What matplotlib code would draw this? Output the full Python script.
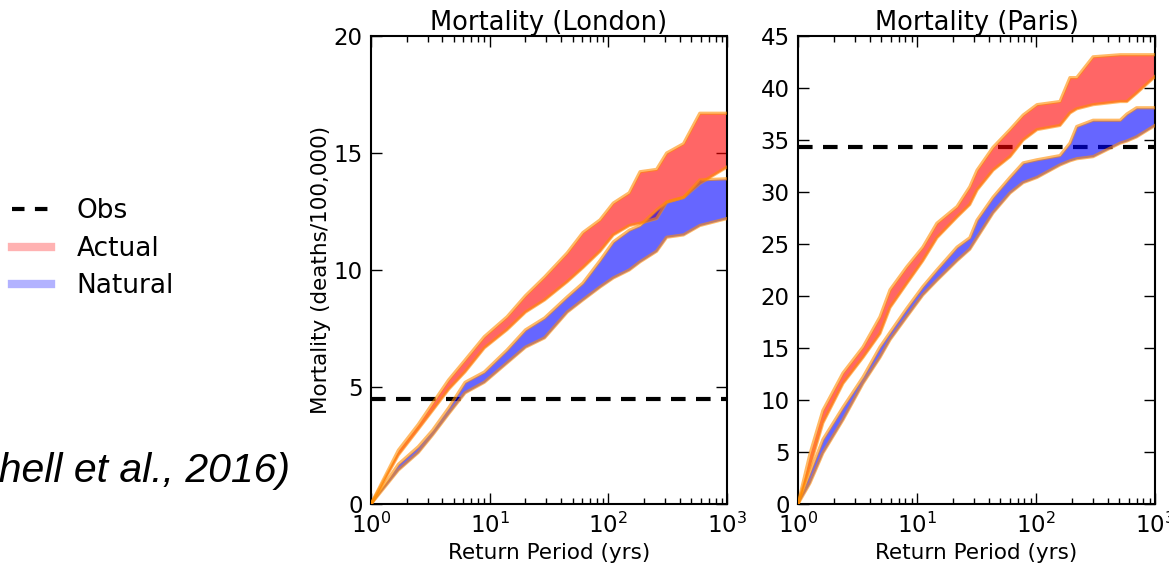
import matplotlib
matplotlib.use("Agg")
import matplotlib.pyplot as plt
from matplotlib.lines import Line2D
import numpy as np

# ---------------- data ----------------
london_rp = [1, 1.7, 2.5, 3.3, 4.5, 6.2, 9, 14, 20, 29, 45, 61, 85, 110, 150,
             185, 255, 310, 430, 590, 1000]
london_act_hi = [0, 2.3, 3.4, 4.3, 5.3, 6.15, 7.15, 8.0, 8.9, 9.7, 10.73, 11.6,
                 12.14, 12.86, 13.3, 14.2, 14.3, 15.0, 15.4, 16.7, 16.7]
london_act_lo = [0, 2.1, 3.2, 4.0, 4.9, 5.65, 6.67, 7.45, 8.2, 8.72, 9.5, 10.1,
                 10.8, 11.5, 11.9, 12.0, 12.2, 12.9, 13.1, 13.7, 14.4]
london_nat_hi = [0, 1.7, 2.45, 3.15, 4.1, 5.2, 5.64, 6.58, 7.44, 7.95, 8.85, 9.44,
                 10.4, 11.2, 11.7, 11.9, 12.56, 12.9, 13.1, 13.85, 13.9]
london_nat_lo = [0, 1.45, 2.2, 2.95, 3.85, 4.75, 5.2, 6.03, 6.7, 7.1, 8.2, 8.72,
                 9.27, 9.66, 10.0, 10.35, 10.8, 11.4, 11.5, 11.9, 12.2]
london_obs = 4.5

paris_rp = [1, 1.26, 1.62, 2.39, 3.52, 4.89, 5.94, 8.2, 11.2, 14.7, 21.7, 27.8,
            32, 43.6, 60.5, 78, 102, 159, 193, 220, 302, 510, 580, 700, 1000]
paris_act_hi = [0, 4.8, 9.0, 12.6, 15.1, 18.0, 20.6, 22.8, 24.7, 27.0, 28.6, 30.5,
                32.1, 34.3, 36.0, 37.4, 38.4, 38.7, 41.0, 41.0, 43.0, 43.2, 43.2,
                43.2, 43.2]
paris_act_lo = [0, 3.6, 7.8, 11.6, 14.1, 16.4, 18.9, 21.2, 23.4, 25.6, 27.6, 28.8,
                30.2, 32.1, 33.4, 35.0, 36.0, 36.4, 37.6, 38.0, 38.4, 38.7, 38.7,
                39.5, 41.1]
paris_nat_hi = [0, 3.0, 6.2, 9.3, 12.2, 15.1, 16.5, 18.8, 20.9, 22.5, 24.7, 25.6,
                27.3, 29.5, 31.4, 32.8, 33.1, 33.5, 34.7, 36.3, 36.9, 36.9, 37.5,
                38.1, 38.1]
paris_nat_lo = [0, 2.0, 4.9, 8.1, 11.6, 14.1, 15.8, 18.0, 20.1, 21.5, 23.4, 24.5,
                25.6, 28.0, 29.9, 30.9, 31.4, 32.6, 33.0, 33.2, 33.4, 34.7, 34.9,
                35.3, 36.4]
paris_obs = 34.3

titles = ["Mortality (London)", "Mortality (Paris)"]
xlabel = "Return Period (yrs)"
ylabel = "Mortality (deaths/100,000)"
legend_labels = ["Obs", "Actual", "Natural"]
citation = "(Mitchell et al., 2016)"

# ---------------- figure ----------------
plt.rcParams['font.family'] = ['DejaVu Sans']
fig = plt.figure(figsize=(11.69, 5.67), dpi=100)

ax1 = fig.add_axes([0.3174, 0.1111, 0.3045, 0.8254])
ax2 = fig.add_axes([0.6826, 0.1111, 0.3054, 0.8254])

edge_kw = dict(color='darkorange', alpha=0.6, lw=2.3, solid_joinstyle='round')


def draw(ax, rp, ahi, alo, nhi, nlo, obs, ymax, title):
    ax.axhline(obs, color='black', ls='--', lw=3, dashes=(3.5, 2.5), zorder=1)
    ax.fill_between(rp, alo, ahi, color='red', alpha=0.6, lw=0, zorder=2)
    ax.plot(rp, ahi, **edge_kw, zorder=3)
    ax.plot(rp, alo, **edge_kw, zorder=3)
    ax.fill_between(rp, nlo, nhi, color='blue', alpha=0.6, lw=0, zorder=2)
    ax.plot(rp, nhi, **edge_kw, zorder=3)
    ax.plot(rp, nlo, **edge_kw, zorder=3)
    ax.set_xscale('log')
    ax.set_xlim(1, 1000)
    ax.set_ylim(0, ymax)
    ax.set_yticks(np.arange(0, ymax + 0.1, 5))
    ax.set_title(title, fontsize=18.5, pad=3)
    ax.set_xlabel(xlabel, fontsize=15.5, labelpad=4)
    ax.tick_params(which='both', direction='in', top=True, right=True,
                   labelsize=16.5, pad=6)
    ax.tick_params(which='major', length=8, width=1)
    ax.tick_params(which='minor', length=4, width=1)
    for s in ax.spines.values():
        s.set_linewidth(1.5)


draw(ax1, london_rp, london_act_hi, london_act_lo, london_nat_hi, london_nat_lo,
     london_obs, 20, titles[0])
draw(ax2, paris_rp, paris_act_hi, paris_act_lo, paris_nat_hi, paris_nat_lo,
     paris_obs, 45, titles[1])
ax1.set_ylabel(ylabel, fontsize=15.5, labelpad=2)

handles = [Line2D([], [], color='black', ls='--', lw=3, dashes=(3, 2.5)),
           Line2D([], [], color='red', alpha=0.3, lw=6),
           Line2D([], [], color='blue', alpha=0.3, lw=6)]
fig.legend(handles, legend_labels, loc='upper left', bbox_to_anchor=(0.010, 0.650),
           frameon=False, fontsize=19, handlelength=1.5, handletextpad=0.95,
           labelspacing=0.43, borderpad=0, borderaxespad=0)

fig.text(0.248, 0.150, citation, ha='right', va='baseline', fontsize=29.5,
         style='italic', family='Liberation Sans')

fig.savefig('out.png', dpi=100)
